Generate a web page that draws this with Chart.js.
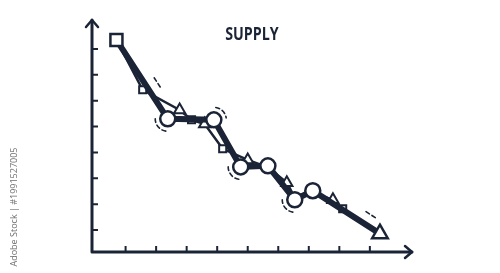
<!DOCTYPE html>
<html>
<head>
<meta charset="utf-8">
<script src="https://cdn.jsdelivr.net/npm/chart.js@4/dist/chart.umd.min.js"></script>
<style>
html,body{margin:0;padding:0;background:#fff;}
#wrap{width:500px;height:273px;position:relative;}
</style>
</head>
<body>
<div id="wrap"><canvas id="c" width="500" height="273"></canvas></div>
<script>
// ---- data ----
const chartTitle = "SUPPLY";
const xTicks = [1, 2, 3, 4, 5, 6, 7, 8, 9];
const yTicks = [1, 2, 3, 4, 5, 6, 7, 8];
const mainX = [0.70, 2.38, 3.89, 4.77, 5.66, 6.54, 7.13, 9.33];
const mainY = [8.35, 5.30, 5.26, 3.44, 3.48, 2.17, 2.52, 0.86];
const mainShapes = ["rect", "circle", "circle", "circle", "circle", "circle", "circle", "triangle"];
const secX = [0.70, 1.56, 2.77, 3.16, 3.59, 4.18, 5.00, 5.66, 6.28, 6.54, 7.13, 7.79, 8.11, 9.33];
const secY = [8.35, 6.42, 5.64, 5.26, 5.10, 4.14, 3.71, 3.42, 2.83, 2.25, 2.45, 2.17, 1.82, 0.86];
const secShapes = [false, "rect", "triangle", "rect", "triangle", "rect", "triangle", false, "triangle", false, false, "triangle", "rect", false];
const watermark = "Adobe Stock | #1991527005";

const NAVY = "#1b2436";

const mainPts = mainX.map((x, i) => ({x, y: mainY[i]}));
const secPts = secX.map((x, i) => ({x, y: secY[i]}));

const mainRadius = mainShapes.map(s => s === "rect" ? 8.5 : s === "triangle" ? 9 : 7.5);
const secRadius = secShapes.map(s => s === "rect" ? 5 : s === "triangle" ? 6.5 : 0);

const decor = {
  id: "decor",
  afterDraw(chart) {
    const ctx = chart.ctx;
    const xs = chart.scales.x, ys = chart.scales.y;
    const L = xs.left, B = ys.bottom, T = ys.top, R = xs.right;
    ctx.save();
    ctx.strokeStyle = NAVY;
    ctx.lineCap = "round";
    ctx.lineJoin = "round";
    // axis lines
    ctx.lineWidth = 3;
    ctx.beginPath();
    ctx.moveTo(L, T); ctx.lineTo(L, B); ctx.lineTo(R, B);
    ctx.stroke();
    // arrow heads
    ctx.lineWidth = 2.5;
    ctx.beginPath();
    ctx.moveTo(L - 6, T + 7); ctx.lineTo(L, T); ctx.lineTo(L + 6, T + 7);
    ctx.moveTo(R - 7, B - 6); ctx.lineTo(R, B); ctx.lineTo(R - 7, B + 6);
    ctx.stroke();
    // inner ticks
    ctx.lineWidth = 2;
    ctx.lineCap = "butt";
    ctx.beginPath();
    xTicks.forEach(v => { const p = xs.getPixelForValue(v); ctx.moveTo(p, B); ctx.lineTo(p, B - 6); });
    yTicks.forEach(v => { const p = ys.getPixelForValue(v); ctx.moveTo(L, p); ctx.lineTo(L + 6, p); });
    ctx.stroke();
    // motion dashes around some circles
    const meta = chart.getDatasetMeta(1).data;
    ctx.lineWidth = 1.6;
    ctx.lineCap = "round";
    ctx.setLineDash([4, 3]);
    const arcs = [[1, 0.55 * Math.PI, 1.0 * Math.PI], [2, 1.55 * Math.PI, 1.95 * Math.PI],
                  [3, 0.55 * Math.PI, 1.0 * Math.PI], [5, 0.55 * Math.PI, 1.0 * Math.PI]];
    arcs.forEach(([i, a0, a1]) => {
      const p = meta[i];
      ctx.beginPath();
      ctx.arc(p.x, p.y, 12.5, a0, a1);
      ctx.stroke();
    });
    // dashes beside segments
    [[0, 0.62], [6, 0.78]].forEach(([i, t]) => {
      const a = meta[i], b = meta[i + 1];
      const mx = a.x + (b.x - a.x) * t, my = a.y + (b.y - a.y) * t;
      const dx = b.x - a.x, dy = b.y - a.y, len = Math.hypot(dx, dy);
      const nx = dy / len, ny = -dx / len;
      const cx = mx + nx * 11, cy = my + ny * 11;
      ctx.beginPath();
      ctx.moveTo(cx - dx / len * 6, cy - dy / len * 6);
      ctx.lineTo(cx + dx / len * 6, cy + dy / len * 6);
      ctx.stroke();
    });
    ctx.setLineDash([]);
    // title
    ctx.fillStyle = NAVY;
    ctx.font = "bold 17px 'Open Sans', 'Liberation Sans Narrow', sans-serif";
    ctx.textAlign = "center";
    ctx.textBaseline = "middle";
    ctx.save();
    ctx.translate(252, 35);
    ctx.scale(0.84, 1);
    ctx.fillText(chartTitle, 0, 0);
    ctx.restore();
    // watermark
    ctx.fillStyle = "#6f6f6f";
    ctx.font = "9px 'Open Sans', sans-serif";
    ctx.translate(14, 207);
    ctx.rotate(-Math.PI / 2);
    ctx.fillText(watermark, 0, 0);
    ctx.restore();
  }
};

new Chart(document.getElementById("c"), {
  type: "line",
  data: {
    datasets: [
      {
        data: secPts,
        borderColor: NAVY,
        borderWidth: 2.5,
        pointStyle: secShapes,
        pointRadius: secRadius,
        pointBackgroundColor: "#fff",
        pointBorderColor: NAVY,
        pointBorderWidth: 2,
        order: 2
      },
      {
        data: mainPts,
        borderColor: NAVY,
        borderWidth: 6,
        pointStyle: mainShapes,
        pointRadius: mainRadius,
        pointBackgroundColor: "#fff",
        pointBorderColor: NAVY,
        pointBorderWidth: 2.5,
        order: 1
      }
    ]
  },
  options: {
    responsive: false,
    animation: false,
    events: [],
    layout: { padding: { left: 92, right: 88, top: 20, bottom: 21 } },
    plugins: { legend: { display: false }, tooltip: { enabled: false }, title: { display: false } },
    scales: {
      x: {
        type: "linear", min: -0.1, max: 10.38,
        grid: { display: false, drawTicks: false },
        border: { display: false },
        ticks: { display: false }
      },
      y: {
        type: "linear", min: 0.15, max: 9.12,
        grid: { display: false, drawTicks: false },
        border: { display: false },
        ticks: { display: false }
      }
    }
  },
  plugins: [decor]
});
</script>
</body>
</html>
